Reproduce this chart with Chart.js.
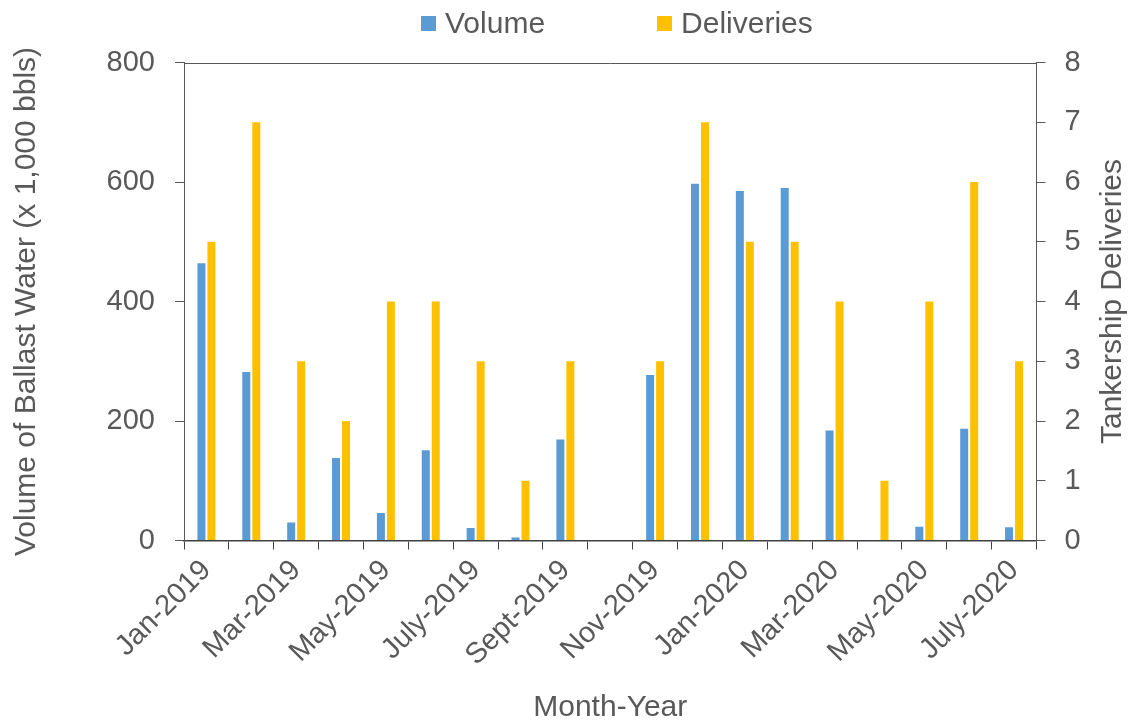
<!DOCTYPE html>
<html>
<head>
<meta charset="utf-8">
<script src="https://cdn.jsdelivr.net/npm/chart.js@4.4.1/dist/chart.umd.min.js"></script>
<style>
  html,body{margin:0;padding:0;background:#fff;}
  #wrap{position:relative;width:1134px;height:726px;}
  #legend{position:absolute;left:421px;top:6px;display:flex;align-items:center;
    font:30px "Liberation Sans",Arial,sans-serif;color:#595959;white-space:nowrap;}
  .item{display:flex;align-items:center;margin-right:112px;}
  .box{width:15px;height:15px;margin-right:9px;}
</style>
</head>
<body>
<div id="wrap">
  <canvas id="chart" width="1134" height="726"></canvas>
  <div id="legend"></div>
</div>
<script>
// months on the x axis (every other one is labelled)
const months = ["Jan-2019","Feb-2019","Mar-2019","Apr-2019","May-2019","June-2019","July-2019",
  "Aug-2019","Sept-2019","Oct-2019","Nov-2019","Dec-2019","Jan-2020","Feb-2020","Mar-2020",
  "Apr-2020","May-2020","June-2020","July-2020"];

// volume of ballast water, x 1,000 bbls (left axis)
const volume = [464,282,30,138,46,151,21,5,169,0,277,597,585,590,184,1,23,187,22];

// tankership deliveries (right axis)
const deliveries = [5,7,3,2,4,4,3,1,3,0,3,7,5,5,4,1,4,6,3];

const volumeTicks = [0,200,400,600,800];
const deliveryTicks = [0,1,2,3,4,5,6,7,8];

const TEXT = "#595959";
const FONT = "Liberation Sans, Arial, sans-serif";

// right axis title reads bottom-to-top, plus the top frame line
const extras = {
  id:"extras",
  afterDraw(chart){
    const {ctx, chartArea} = chart;
    const s = chart.scales.y1;
    ctx.save();
    ctx.strokeStyle = "#595959";
    ctx.lineWidth = 1;
    ctx.beginPath();
    ctx.moveTo(chartArea.left, Math.round(chartArea.top)+0.5);
    ctx.lineTo(chartArea.right, Math.round(chartArea.top)+0.5);
    ctx.stroke();

    ctx.translate(s.right - 21, (chartArea.top + chartArea.bottom)/2);
    ctx.rotate(-Math.PI/2);
    ctx.font = "30px " + FONT;
    ctx.fillStyle = TEXT;
    ctx.textAlign = "center";
    ctx.textBaseline = "middle";
    ctx.fillText("Tankership Deliveries", 0, 0);
    ctx.restore();
  }
};

const chart = new Chart(document.getElementById("chart"),{
  type:"bar",
  data:{
    labels:months,
    datasets:[
      {label:"Volume", data:volume, yAxisID:"y", backgroundColor:"#5B9BD5",
       categoryPercentage:0.446, barPercentage:0.8},
      {label:"Deliveries", data:deliveries, yAxisID:"y1", backgroundColor:"#FFC000",
       categoryPercentage:0.446, barPercentage:0.8}
    ]
  },
  options:{
    responsive:false,
    animation:false,
    layout:{padding:{top:62.5,left:0,right:0,bottom:0}},
    plugins:{legend:{display:false}, tooltip:{enabled:false}},
    scales:{
      x:{
        grid:{offset:true, drawOnChartArea:false, drawTicks:true, tickLength:9, color:"#404040"},
        border:{display:true, color:"#404040", width:1.5},
        ticks:{
          autoSkip:false, minRotation:45, maxRotation:45, padding:4,
          color:TEXT, font:{family:FONT, size:29},
          callback:(v,i)=> i%2===0 ? months[i] : ""
        },
        title:{display:true, text:"Month-Year", color:TEXT, font:{family:FONT, size:30}, padding:0},
        afterFit(s){ s.height = 185.5; }
      },
      y:{
        position:"left", min:0, max:800,
        afterBuildTicks(s){ s.ticks = volumeTicks.map(v=>({value:v})); },
        grid:{drawOnChartArea:false, drawTicks:true, tickLength:9, color:"#595959"},
        border:{display:true, color:"#595959"},
        ticks:{padding:20, color:TEXT, font:{family:FONT, size:29}},
        title:{display:true, text:"Volume of Ballast Water (x 1,000 bbls)", color:TEXT,
               font:{family:FONT, size:30}, padding:{top:9,bottom:0}},
        afterFit(s){ s.width = 184; }
      },
      y1:{
        position:"right", min:0, max:8,
        afterBuildTicks(s){ s.ticks = deliveryTicks.map(v=>({value:v})); },
        grid:{drawOnChartArea:false, drawTicks:true, tickLength:9, color:"#595959"},
        border:{display:true, color:"#595959"},
        ticks:{padding:19, color:TEXT, font:{family:FONT, size:29}},
        afterFit(s){ s.width = 97.5; }
      }
    }
  },
  plugins:[extras]
});

// legend as plain html, built from the datasets
document.getElementById("legend").innerHTML = chart.data.datasets.map(d=>`
  <div class="item"><span class="box" style="background:${d.backgroundColor}"></span>${d.label}</div>
`).join("");
</script>
</body>
</html>
